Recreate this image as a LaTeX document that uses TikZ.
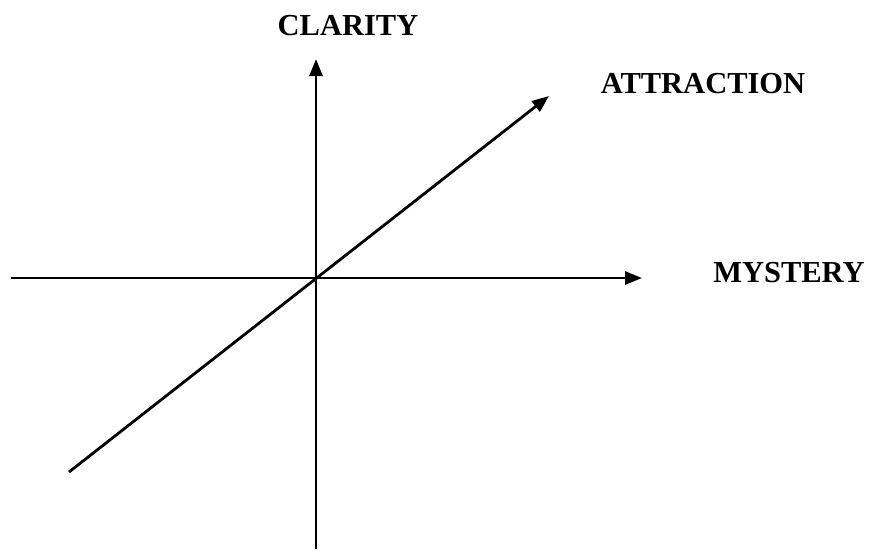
\documentclass[tikz,border=0pt]{standalone}
\usepackage{fontspec}
\setmainfont{Liberation Serif}
\usetikzlibrary{arrows.meta}
\begin{document}
\begin{tikzpicture}[x=1pt,y=-1pt,
  axis/.style={line width=2.8pt,-{Triangle[length=17pt,width=13pt]}},
  lbl/.style={font=\fontsize{30.5}{33}\selectfont\bfseries,anchor=base,inner sep=0pt}]
\useasboundingbox (0,0) rectangle (880,549);
\coordinate (o) at (316,278);
\coordinate (xl) at (11,278);
\coordinate (xr) at (642,278);
\coordinate (yb) at (316,549);
\coordinate (yt) at (316,59);
\coordinate (dl) at (69,472);
\coordinate (dr) at (549,96);
\draw[axis] (xl) -- (xr);
\draw[axis] (yb) -- (yt);
\draw[axis] (dl) -- (dr);
\node[lbl] (clarity) at (348,35) {CLARITY};
\node[lbl] (attraction) at (703,93) {ATTRACTION};
\node[lbl] (mystery) at (789,282) {MYSTERY};
\end{tikzpicture}
\end{document}
